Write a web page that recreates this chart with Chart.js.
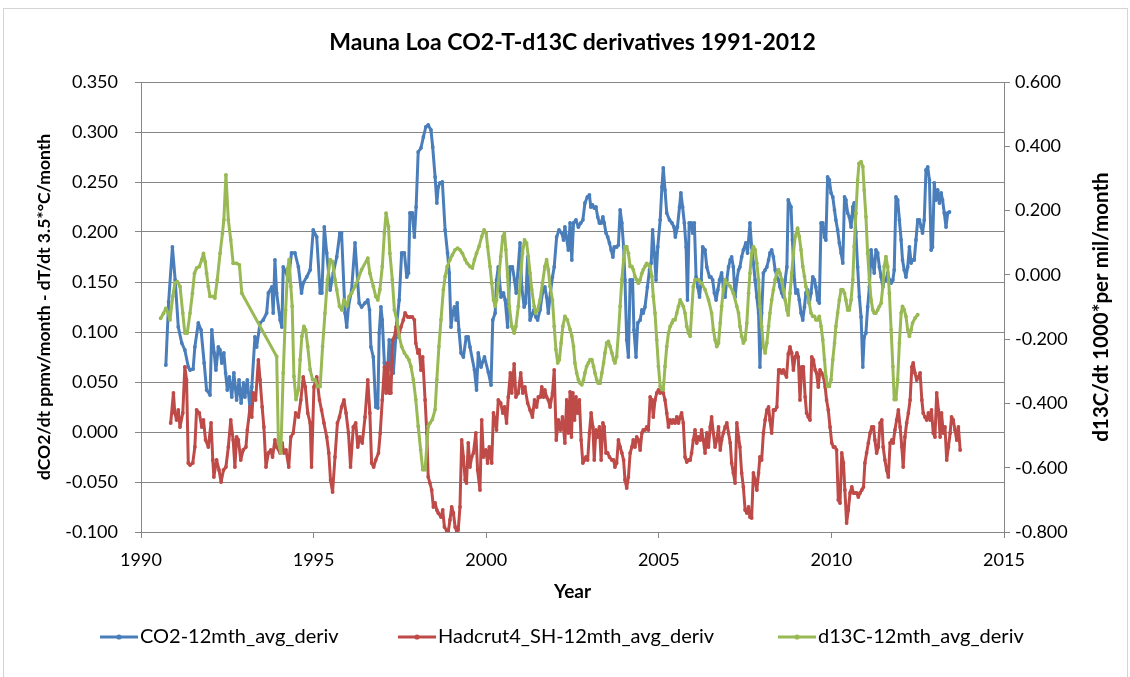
<!DOCTYPE html>
<html>
<head>
<meta charset="utf-8">
<title>Mauna Loa CO2-T-d13C derivatives 1991-2012</title>
<script src="https://cdn.jsdelivr.net/npm/chart.js@4.4.1/dist/chart.umd.min.js"></script>
<style>
  html, body { margin: 0; padding: 0; background: #ffffff; }
  #wrap { width: 1130px; height: 677px; position: relative; }
  canvas { display: block; }
</style>
</head>
<body>
<div id="wrap"><canvas id="chart" width="1130" height="677"></canvas></div>
<script>
// ---- Series data (decimal year, value) ----

// CO2 12-month average derivative (left axis)
const co2Year = [
  1990.72,1990.80,1990.91,1990.99,1991.08,1991.18,1991.27,1991.37,1991.42,1991.51,
  1991.56,1991.66,1991.74,1991.83,1991.90,1992.00,1992.05,1992.12,1992.17,1992.24,
  1992.29,1992.34,1992.40,1992.45,1992.50,1992.56,1992.63,1992.69,1992.77,1992.84,
  1992.90,1992.97,1993.01,1993.08,1993.16,1993.21,1993.30,1993.35,1993.45,1993.54,
  1993.64,1993.69,1993.79,1993.83,1993.88,1993.93,1994.03,1994.08,1994.12,1994.20,
  1994.27,1994.36,1994.46,1994.56,1994.65,1994.70,1994.80,1994.90,1994.99,1995.09,
  1995.19,1995.24,1995.31,1995.38,1995.48,1995.57,1995.67,1995.76,1995.81,1995.91,
  1995.96,1996.01,1996.10,1996.20,1996.32,1996.39,1996.49,1996.57,1996.62,1996.66,
  1996.73,1996.80,1996.86,1996.90,1996.95,1996.99,1997.05,1997.10,1997.15,1997.19,
  1997.24,1997.31,1997.41,1997.48,1997.55,1997.63,1997.70,1997.75,1997.79,1997.86,
  1997.92,1997.97,1998.03,1998.11,1998.18,1998.25,1998.32,1998.40,1998.45,1998.52,
  1998.57,1998.61,1998.66,1998.73,1998.81,1998.88,1998.93,1998.98,1999.03,1999.08,
  1999.13,1999.16,1999.21,1999.27,1999.34,1999.42,1999.48,1999.53,1999.66,1999.72,
  1999.77,1999.85,1999.95,2000.06,2000.14,2000.19,2000.26,2000.30,2000.35,2000.43,
  2000.50,2000.55,2000.62,2000.69,2000.76,2000.82,2000.87,2000.98,2001.03,2001.10,
  2001.14,2001.20,2001.27,2001.38,2001.44,2001.49,2001.56,2001.63,2001.70,2001.75,
  2001.80,2001.86,2001.92,2001.97,2002.04,2002.11,2002.19,2002.24,2002.28,2002.38,
  2002.43,2002.48,2002.53,2002.60,2002.67,2002.74,2002.80,2002.86,2002.93,2002.99,
  2003.03,2003.08,2003.13,2003.18,2003.23,2003.28,2003.33,2003.38,2003.42,2003.47,
  2003.52,2003.57,2003.62,2003.67,2003.71,2003.78,2003.83,2003.88,2003.93,2003.98,
  2004.02,2004.07,2004.12,2004.17,2004.24,2004.28,2004.34,2004.39,2004.46,2004.51,
  2004.55,2004.60,2004.67,2004.73,2004.78,2004.82,2004.87,2004.92,2004.97,2005.04,
  2005.09,2005.13,2005.18,2005.23,2005.31,2005.38,2005.44,2005.48,2005.54,2005.60,
  2005.64,2005.69,2005.74,2005.79,2005.83,2005.88,2005.94,2005.98,2006.03,2006.08,
  2006.13,2006.18,2006.23,2006.27,2006.34,2006.39,2006.47,2006.51,2006.56,2006.61,
  2006.66,2006.71,2006.76,2006.82,2006.87,2006.92,2006.97,2007.02,2007.07,2007.11,
  2007.16,2007.21,2007.26,2007.31,2007.35,2007.40,2007.45,2007.52,2007.57,2007.64,
  2007.69,2007.74,2007.79,2007.84,2007.89,2007.93,2007.98,2008.03,2008.08,2008.13,
  2008.18,2008.22,2008.27,2008.32,2008.37,2008.42,2008.47,2008.51,2008.56,2008.61,
  2008.66,2008.71,2008.75,2008.83,2008.87,2008.93,2008.97,2009.02,2009.07,2009.12,
  2009.17,2009.22,2009.26,2009.31,2009.36,2009.41,2009.46,2009.51,2009.55,2009.60,
  2009.65,2009.70,2009.75,2009.80,2009.84,2009.89,2009.94,2009.99,2010.04,2010.09,
  2010.13,2010.18,2010.23,2010.28,2010.33,2010.38,2010.42,2010.47,2010.52,2010.57,
  2010.62,2010.66,2010.71,2010.76,2010.81,2010.86,2010.91,2010.95,2011.00,2011.05,
  2011.10,2011.15,2011.20,2011.24,2011.29,2011.34,2011.39,2011.44,2011.49,2011.53,
  2011.58,2011.63,2011.68,2011.73,2011.78,2011.82,2011.87,2011.92,2011.97,2012.02,
  2012.06,2012.11,2012.16,2012.21,2012.26,2012.31,2012.35,2012.40,2012.45,2012.50,
  2012.55,2012.60,2012.64,2012.69,2012.74,2012.79,2012.84,2012.89,2012.93,2012.98,
  2013.03,2013.08,2013.13,2013.18,2013.22,2013.27,2013.32,2013.37,2013.42
];
const co2Value = [
  0.067,0.130,0.185,0.152,0.105,0.089,0.082,0.065,0.062,0.063,
  0.085,0.109,0.102,0.069,0.042,0.037,0.102,0.079,0.062,0.085,
  0.082,0.069,0.079,0.059,0.042,0.055,0.035,0.059,0.032,0.052,
  0.029,0.049,0.035,0.052,0.022,0.045,0.095,0.085,0.109,0.112,
  0.119,0.139,0.145,0.119,0.172,0.139,0.112,0.105,0.165,0.160,
  0.152,0.179,0.179,0.165,0.139,0.149,0.155,0.162,0.202,0.195,
  0.139,0.139,0.205,0.179,0.142,0.159,0.175,0.199,0.199,0.119,
  0.105,0.125,0.142,0.189,0.129,0.125,0.129,0.132,0.122,0.085,
  0.075,0.025,0.024,0.099,0.125,0.112,0.069,0.059,0.065,0.092,
  0.062,0.059,0.109,0.132,0.179,0.179,0.155,0.159,0.219,0.219,
  0.195,0.225,0.280,0.284,0.295,0.305,0.307,0.302,0.285,0.255,
  0.229,0.245,0.249,0.250,0.202,0.179,0.159,0.105,0.119,0.125,
  0.112,0.129,0.102,0.079,0.075,0.095,0.095,0.085,0.062,0.042,
  0.079,0.065,0.075,0.060,0.047,0.112,0.119,0.152,0.165,0.135,
  0.139,0.132,0.105,0.165,0.165,0.152,0.139,0.189,0.145,0.125,
  0.129,0.175,0.112,0.122,0.115,0.112,0.122,0.139,0.145,0.135,
  0.119,0.139,0.155,0.165,0.195,0.202,0.199,0.192,0.205,0.182,
  0.209,0.172,0.209,0.212,0.205,0.209,0.212,0.229,0.235,0.237,
  0.225,0.227,0.224,0.225,0.215,0.209,0.209,0.215,0.209,0.199,
  0.195,0.189,0.182,0.175,0.185,0.185,0.187,0.222,0.209,0.185,
  0.152,0.092,0.075,0.152,0.152,0.102,0.075,0.109,0.112,0.122,
  0.119,0.125,0.145,0.162,0.169,0.202,0.179,0.152,0.185,0.212,
  0.245,0.264,0.242,0.219,0.212,0.209,0.205,0.195,0.205,0.225,
  0.239,0.225,0.209,0.185,0.132,0.209,0.209,0.199,0.209,0.155,
  0.145,0.135,0.152,0.185,0.182,0.165,0.155,0.155,0.152,0.139,
  0.132,0.142,0.152,0.159,0.145,0.135,0.152,0.165,0.172,0.175,
  0.165,0.135,0.152,0.162,0.165,0.175,0.182,0.189,0.179,0.209,
  0.185,0.169,0.152,0.135,0.119,0.065,0.119,0.159,0.162,0.165,
  0.172,0.179,0.182,0.175,0.162,0.155,0.152,0.145,0.139,0.135,
  0.152,0.165,0.232,0.225,0.192,0.152,0.139,0.142,0.132,0.119,
  0.112,0.125,0.139,0.142,0.129,0.139,0.155,0.152,0.145,0.132,
  0.129,0.209,0.209,0.195,0.192,0.255,0.252,0.239,0.235,0.222,
  0.212,0.202,0.189,0.179,0.169,0.235,0.232,0.219,0.215,0.205,
  0.225,0.229,0.199,0.165,0.135,0.115,0.065,0.095,0.099,0.125,
  0.145,0.182,0.169,0.159,0.182,0.179,0.165,0.155,0.145,0.152,
  0.152,0.159,0.152,0.149,0.152,0.162,0.235,0.232,0.212,0.192,
  0.172,0.162,0.155,0.165,0.185,0.169,0.172,0.172,0.192,0.212,
  0.212,0.205,0.199,0.212,0.262,0.265,0.252,0.182,0.185,0.249,
  0.232,0.242,0.229,0.239,0.232,0.219,0.205,0.219,0.220
];

// HadCRUT4 southern hemisphere, 12-month average derivative (left axis)
const hadYear = [
  1990.86,1990.94,1990.98,1991.03,1991.08,1991.13,1991.21,1991.27,1991.32,1991.37,
  1991.42,1991.50,1991.56,1991.61,1991.69,1991.76,1991.81,1991.87,1991.95,1992.03,
  1992.08,1992.11,1992.19,1992.26,1992.32,1992.39,1992.46,1992.53,1992.60,1992.67,
  1992.72,1992.77,1992.82,1992.89,1992.96,1993.04,1993.08,1993.16,1993.21,1993.25,
  1993.32,1993.40,1993.45,1993.51,1993.56,1993.62,1993.69,1993.76,1993.81,1993.88,
  1993.93,1994.03,1994.09,1994.14,1994.20,1994.28,1994.34,1994.41,1994.48,1994.56,
  1994.63,1994.70,1994.76,1994.83,1994.90,1994.94,1995.01,1995.09,1995.17,1995.23,
  1995.30,1995.38,1995.44,1995.49,1995.55,1995.62,1995.69,1995.75,1995.81,1995.88,
  1995.94,1996.01,1996.07,1996.15,1996.22,1996.28,1996.34,1996.41,1996.49,1996.57,
  1996.63,1996.68,1996.74,1996.80,1996.88,1996.93,1996.99,1997.05,1997.10,1997.15,
  1997.19,1997.24,1997.29,1997.34,1997.39,1997.46,1997.53,1997.60,1997.65,1997.73,
  1997.79,1997.86,1997.92,1997.96,1998.02,1998.06,1998.11,1998.16,1998.23,1998.28,
  1998.32,1998.37,1998.42,1998.47,1998.52,1998.57,1998.61,1998.69,1998.74,1998.79,
  1998.86,1998.90,1998.95,1999.00,1999.05,1999.10,1999.15,1999.19,1999.24,1999.29,
  1999.34,1999.39,1999.43,1999.48,1999.53,1999.58,1999.63,1999.70,1999.75,1999.82,
  1999.87,1999.92,1999.99,2000.04,2000.09,2000.16,2000.21,2000.26,2000.30,2000.35,
  2000.42,2000.48,2000.53,2000.59,2000.64,2000.70,2000.74,2000.81,2000.86,2000.93,
  2001.00,2001.06,2001.12,2001.20,2001.27,2001.34,2001.40,2001.46,2001.51,2001.57,
  2001.61,2001.66,2001.70,2001.75,2001.80,2001.85,2001.92,2001.97,2002.03,2002.09,
  2002.15,2002.21,2002.28,2002.33,2002.38,2002.43,2002.47,2002.51,2002.56,2002.60,
  2002.65,2002.70,2002.75,2002.80,2002.85,2002.89,2002.94,2002.99,2003.04,2003.09,
  2003.13,2003.18,2003.23,2003.28,2003.33,2003.38,2003.42,2003.47,2003.52,2003.57,
  2003.64,2003.69,2003.73,2003.78,2003.83,2003.88,2003.93,2003.98,2004.02,2004.07,
  2004.12,2004.17,2004.22,2004.26,2004.31,2004.36,2004.41,2004.46,2004.51,2004.55,
  2004.60,2004.65,2004.70,2004.75,2004.80,2004.84,2004.89,2004.94,2004.99,2005.04,
  2005.09,2005.13,2005.18,2005.23,2005.28,2005.33,2005.38,2005.42,2005.47,2005.52,
  2005.57,2005.62,2005.66,2005.71,2005.76,2005.81,2005.86,2005.91,2005.95,2006.00,
  2006.05,2006.10,2006.15,2006.20,2006.24,2006.29,2006.34,2006.39,2006.44,2006.49,
  2006.53,2006.58,2006.63,2006.68,2006.73,2006.78,2006.82,2006.87,2006.92,2006.97,
  2007.02,2007.07,2007.11,2007.16,2007.21,2007.26,2007.31,2007.35,2007.40,2007.45,
  2007.50,2007.55,2007.60,2007.64,2007.69,2007.74,2007.79,2007.84,2007.89,2007.93,
  2007.98,2008.03,2008.08,2008.13,2008.18,2008.22,2008.27,2008.32,2008.37,2008.42,
  2008.47,2008.51,2008.56,2008.61,2008.66,2008.70,2008.75,2008.80,2008.85,2008.90,
  2008.95,2009.00,2009.04,2009.09,2009.14,2009.19,2009.24,2009.28,2009.33,2009.38,
  2009.43,2009.48,2009.53,2009.57,2009.62,2009.67,2009.72,2009.77,2009.82,2009.86,
  2009.91,2009.96,2010.01,2010.06,2010.10,2010.15,2010.20,2010.25,2010.30,2010.35,
  2010.39,2010.44,2010.49,2010.54,2010.59,2010.64,2010.68,2010.73,2010.78,2010.83,
  2010.88,2010.93,2010.97,2011.02,2011.07,2011.12,2011.17,2011.22,2011.26,2011.31,
  2011.36,2011.41,2011.46,2011.50,2011.55,2011.60,2011.65,2011.70,2011.75,2011.79,
  2011.84,2011.89,2011.94,2011.99,2012.04,2012.08,2012.13,2012.18,2012.23,2012.28,
  2012.33,2012.37,2012.42,2012.47,2012.52,2012.57,2012.62,2012.66,2012.71,2012.76,
  2012.81,2012.86,2012.90,2012.95,2013.00,2013.05,2013.10,2013.15,2013.19,2013.24,
  2013.29,2013.34,2013.39,2013.44,2013.48,2013.53,2013.58,2013.63,2013.68,2013.73
];
const hadValue = [
  0.009,0.039,0.019,0.012,0.022,0.005,0.019,0.065,0.052,-0.031,
  -0.033,-0.031,-0.015,0.022,0.019,0.005,0.012,-0.008,-0.015,0.009,
  -0.028,-0.045,-0.028,-0.038,-0.050,-0.038,-0.035,-0.015,0.012,-0.008,
  -0.035,-0.005,-0.008,-0.028,-0.018,-0.015,0.002,0.025,0.015,0.039,
  0.032,0.072,0.052,0.025,0.005,-0.035,-0.021,-0.018,-0.025,-0.008,
  -0.015,-0.021,-0.011,-0.021,-0.018,-0.035,-0.005,-0.001,0.019,0.015,
  0.032,0.055,0.045,0.019,0.009,-0.035,0.045,0.055,0.032,0.022,
  0.009,-0.005,-0.021,-0.048,-0.060,-0.025,0.009,0.015,0.025,0.032,
  0.019,-0.001,-0.035,0.005,0.009,-0.015,-0.005,-0.011,0.015,0.052,
  0.019,-0.031,-0.035,-0.028,-0.021,-0.001,0.032,0.065,0.039,0.069,
  0.039,0.039,0.092,0.095,0.105,0.095,0.105,0.112,0.119,0.115,
  0.115,0.115,0.112,0.089,0.079,0.082,0.062,0.075,0.032,-0.001,
  -0.045,-0.051,-0.058,-0.075,-0.071,-0.078,-0.081,-0.085,-0.078,-0.095,
  -0.099,-0.100,-0.088,-0.075,-0.081,-0.095,-0.100,-0.098,-0.075,-0.008,
  -0.025,-0.048,-0.051,-0.011,-0.035,-0.025,-0.021,-0.001,-0.038,-0.058,
  0.012,-0.025,-0.018,-0.031,-0.015,-0.031,0.019,0.012,0.002,0.032,
  0.029,0.019,0.025,0.009,0.035,0.059,0.039,0.068,0.035,0.039,
  0.059,0.039,0.045,0.029,0.022,0.015,0.032,0.025,0.035,0.035,
  0.045,0.035,0.042,0.035,0.032,0.025,0.039,0.062,-0.008,0.012,
  0.002,0.015,-0.011,0.032,-0.001,0.040,-0.005,0.039,0.012,0.035,
  0.019,0.032,-0.008,-0.031,-0.028,-0.025,-0.028,-0.001,0.019,0.005,
  -0.028,0.002,-0.005,0.005,-0.028,0.009,0.005,-0.021,-0.021,-0.025,
  -0.028,-0.028,-0.035,-0.031,-0.008,-0.015,-0.021,-0.028,-0.048,-0.056,
  -0.045,-0.021,-0.015,-0.008,-0.015,-0.005,-0.008,-0.018,-0.001,0.002,
  0.002,0.005,0.002,0.035,0.032,0.015,0.032,0.039,0.042,0.039,
  0.042,0.039,0.032,0.019,0.005,0.012,0.009,0.012,0.009,0.015,
  0.009,0.015,0.019,0.009,-0.025,-0.030,-0.028,-0.028,-0.021,-0.008,
  0.002,-0.011,-0.005,-0.008,0.002,-0.008,-0.021,-0.001,-0.015,0.005,
  0.015,-0.001,-0.015,-0.008,0.005,-0.018,-0.008,-0.001,0.005,0.009,
  -0.001,-0.011,-0.031,-0.041,-0.051,0.009,-0.005,-0.015,-0.041,-0.055,
  -0.078,-0.081,-0.075,-0.085,-0.086,-0.041,-0.048,-0.058,-0.041,-0.025,
  -0.028,-0.001,0.012,0.022,0.025,0.012,-0.001,0.022,0.022,0.025,
  0.062,0.062,0.059,0.062,0.058,0.055,0.078,0.085,0.079,0.062,
  0.075,0.079,0.075,0.032,0.065,0.065,0.035,0.019,0.015,0.012,
  0.075,0.072,0.062,0.059,0.045,0.062,0.059,0.055,0.045,0.032,
  0.022,0.005,-0.011,-0.015,-0.015,-0.018,-0.068,-0.071,-0.021,-0.031,
  -0.058,-0.091,-0.078,-0.061,-0.055,-0.061,-0.061,-0.061,-0.065,-0.061,
  -0.058,-0.055,-0.031,-0.021,-0.011,-0.001,0.005,0.005,-0.008,-0.021,
  -0.015,0.009,0.012,-0.015,-0.028,-0.038,-0.045,-0.011,-0.008,-0.011,
  0.002,0.012,0.022,0.005,-0.015,-0.035,-0.005,0.009,0.019,0.032,
  0.065,0.069,0.059,0.052,0.055,0.059,0.032,0.019,0.015,0.012,
  0.019,0.012,0.022,-0.001,-0.005,0.039,0.022,-0.005,0.019,-0.001,
  0.005,-0.028,-0.015,-0.001,0.015,0.012,0.002,-0.008,0.005,-0.018
];

// d13C 12-month average derivative (right axis)
const d13cYear = [
  1990.57,1990.65,1990.72,1990.79,1990.84,1990.92,1990.98,1991.05,1991.13,1991.21,
  1991.27,1991.34,1991.42,1991.49,1991.55,1991.61,1991.69,1991.76,1991.81,1991.86,
  1991.90,1991.95,1992.00,1992.08,1992.14,1992.21,1992.29,1992.36,1992.40,1992.46,
  1992.53,1992.60,1992.67,1992.77,1992.85,1992.92,1993.93,1993.98,1994.05,1994.12,
  1994.19,1994.25,1994.29,1994.34,1994.38,1994.43,1994.49,1994.56,1994.61,1994.66,
  1994.72,1994.77,1994.83,1994.90,1994.97,1995.04,1995.12,1995.19,1995.26,1995.33,
  1995.40,1995.48,1995.55,1995.62,1995.67,1995.75,1995.82,1995.88,1995.96,1996.03,
  1996.10,1996.20,1996.30,1996.39,1996.57,1996.63,1996.73,1996.80,1996.86,1996.92,
  1996.99,1997.05,1997.10,1997.17,1997.21,1997.28,1997.34,1997.41,1997.48,1997.55,
  1997.63,1997.70,1997.76,1997.82,1997.89,1997.96,1998.03,1998.10,1998.16,1998.23,
  1998.32,1998.37,1998.44,1998.52,1998.57,1998.63,1998.69,1998.76,1998.81,1998.87,
  1998.95,1999.02,1999.10,1999.17,1999.24,1999.31,1999.39,1999.45,1999.53,1999.60,
  1999.66,1999.72,1999.79,1999.87,1999.94,2000.00,2000.04,2000.11,2000.16,2000.21,
  2000.26,2000.30,2000.35,2000.42,2000.48,2000.53,2000.57,2000.62,2000.67,2000.74,
  2000.81,2000.86,2000.93,2000.99,2001.05,2001.11,2001.17,2001.22,2001.27,2001.32,
  2001.39,2001.43,2001.49,2001.56,2001.63,2001.70,2001.75,2001.80,2001.85,2001.92,
  2001.97,2002.02,2002.07,2002.12,2002.17,2002.22,2002.28,2002.35,2002.43,2002.48,
  2002.53,2002.57,2002.62,2002.67,2002.72,2002.77,2002.82,2002.86,2002.91,2002.96,
  2003.01,2003.06,2003.11,2003.15,2003.20,2003.25,2003.30,2003.35,2003.40,2003.44,
  2003.49,2003.54,2003.59,2003.64,2003.69,2003.73,2003.78,2003.83,2003.88,2003.93,
  2003.98,2004.02,2004.07,2004.12,2004.17,2004.22,2004.26,2004.31,2004.36,2004.41,
  2004.46,2004.51,2004.55,2004.60,2004.65,2004.70,2004.75,2004.80,2004.84,2004.89,
  2004.94,2004.99,2005.04,2005.09,2005.13,2005.18,2005.23,2005.28,2005.33,2005.38,
  2005.42,2005.47,2005.52,2005.57,2005.62,2005.66,2005.71,2005.76,2005.81,2005.86,
  2005.91,2005.95,2006.00,2006.05,2006.15,2006.24,2006.34,2006.44,2006.53,2006.58,
  2006.63,2006.68,2006.73,2006.78,2006.82,2006.87,2006.92,2006.97,2007.07,2007.16,
  2007.26,2007.31,2007.35,2007.40,2007.45,2007.50,2007.55,2007.60,2007.64,2007.69,
  2007.74,2007.79,2007.84,2007.89,2007.93,2007.98,2008.03,2008.08,2008.13,2008.18,
  2008.22,2008.27,2008.32,2008.37,2008.42,2008.47,2008.51,2008.56,2008.61,2008.66,
  2008.71,2008.75,2008.80,2008.85,2008.90,2008.95,2009.02,2009.07,2009.12,2009.17,
  2009.22,2009.26,2009.31,2009.36,2009.41,2009.46,2009.51,2009.55,2009.60,2009.65,
  2009.70,2009.75,2009.80,2009.84,2009.89,2009.94,2009.99,2010.04,2010.09,2010.13,
  2010.18,2010.23,2010.28,2010.33,2010.38,2010.42,2010.47,2010.52,2010.57,2010.62,
  2010.66,2010.71,2010.76,2010.80,2010.86,2010.91,2010.95,2011.00,2011.05,2011.10,
  2011.15,2011.20,2011.24,2011.29,2011.34,2011.39,2011.44,2011.49,2011.53,2011.58,
  2011.63,2011.68,2011.73,2011.78,2011.82,2011.87,2011.92,2011.97,2012.02,2012.06,
  2012.11,2012.16,2012.21,2012.26,2012.31,2012.35,2012.42,2012.50
];
const d13cValue = [
  -0.135,-0.120,-0.104,-0.120,-0.140,-0.067,-0.026,-0.021,-0.036,-0.119,
  -0.181,-0.181,-0.119,-0.057,0.005,0.021,0.026,0.047,0.067,0.041,
  0.005,-0.036,-0.067,-0.067,-0.072,-0.015,0.067,0.129,0.171,0.311,
  0.171,0.109,0.036,0.036,0.031,-0.057,-0.254,-0.520,-0.554,-0.305,
  -0.109,0.020,0.047,-0.036,-0.098,-0.316,-0.388,-0.357,-0.264,-0.191,
  -0.160,-0.171,-0.223,-0.295,-0.326,-0.326,-0.347,-0.347,-0.223,-0.119,
  -0.015,0.047,0.041,-0.015,-0.046,-0.098,-0.109,-0.078,-0.098,-0.067,
  -0.057,-0.036,-0.010,0.016,0.052,0.005,-0.036,-0.067,-0.078,-0.046,
  0.026,0.130,0.192,0.150,0.067,-0.015,-0.109,-0.140,-0.191,-0.223,
  -0.243,-0.254,-0.264,-0.285,-0.326,-0.388,-0.471,-0.544,-0.606,-0.606,
  -0.471,-0.461,-0.450,-0.419,-0.326,-0.223,-0.140,-0.046,-0.005,0.026,
  0.047,0.062,0.078,0.083,0.078,0.067,0.047,0.036,0.026,0.021,
  0.047,0.067,0.088,0.119,0.140,0.130,0.088,0.026,-0.026,-0.078,
  -0.098,-0.078,-0.026,0.057,0.119,0.130,0.078,-0.005,-0.098,-0.160,
  -0.181,-0.160,-0.098,-0.015,0.067,0.109,0.099,0.057,0.005,-0.046,
  -0.098,-0.119,-0.109,-0.078,-0.026,0.026,0.047,0.016,-0.036,-0.078,
  -0.160,-0.233,-0.274,-0.264,-0.212,-0.160,-0.129,-0.140,-0.170,-0.190,
  -0.223,-0.274,-0.305,-0.326,-0.337,-0.342,-0.326,-0.305,-0.285,-0.274,
  -0.264,-0.264,-0.285,-0.305,-0.326,-0.337,-0.337,-0.305,-0.274,-0.243,
  -0.212,-0.207,-0.223,-0.243,-0.264,-0.274,-0.254,-0.181,-0.098,-0.015,
  0.047,0.088,0.088,0.067,0.026,0.026,0.016,-0.005,-0.015,-0.026,
  -0.015,0.005,0.016,0.026,0.036,0.031,0.026,-0.005,-0.067,-0.119,
  -0.202,-0.285,-0.347,-0.357,-0.357,-0.285,-0.223,-0.181,-0.160,-0.150,
  -0.140,-0.140,-0.119,-0.098,-0.078,-0.088,-0.098,-0.119,-0.160,-0.181,
  -0.191,-0.119,-0.036,-0.015,-0.015,-0.026,-0.046,-0.078,-0.119,-0.171,
  -0.202,-0.223,-0.212,-0.150,-0.098,-0.046,-0.015,-0.026,-0.036,-0.057,
  -0.098,-0.119,-0.160,-0.191,-0.212,-0.202,-0.150,-0.057,0.005,0.067,
  0.088,0.078,0.036,-0.015,-0.098,-0.160,-0.223,-0.243,-0.212,-0.160,
  -0.119,-0.078,-0.046,-0.015,0.005,0.016,0.005,-0.015,-0.046,-0.078,
  -0.109,-0.125,-0.057,0.005,0.067,0.119,0.145,0.119,0.078,0.026,
  -0.005,-0.036,-0.057,-0.088,-0.119,-0.129,-0.129,-0.140,-0.140,-0.129,
  -0.160,-0.202,-0.264,-0.316,-0.347,-0.347,-0.326,-0.264,-0.212,-0.160,
  -0.119,-0.078,-0.046,-0.046,-0.057,-0.078,-0.109,-0.109,-0.078,-0.015,
  0.088,0.192,0.295,0.347,0.352,0.337,0.264,0.181,0.067,-0.015,
  -0.078,-0.109,-0.119,-0.119,-0.109,-0.098,-0.088,-0.036,0.026,0.057,
  0.026,-0.057,-0.171,-0.285,-0.388,-0.388,-0.326,-0.212,-0.119,-0.098,
  -0.109,-0.129,-0.171,-0.191,-0.171,-0.150,-0.135,-0.124
];

// ---- Labels ----
const chartTitle = 'Mauna Loa CO2-T-d13C derivatives 1991-2012';
const xAxisTitle = 'Year';
const leftAxisTitle = 'dCO2/dt ppmv/month - dT/dt 3.5*\u00B0C/month';
const rightAxisTitle = 'd13C/dt 1000*per mil/month';
const seriesNames = ['CO2-12mth_avg_deriv', 'Hadcrut4_SH-12mth_avg_deriv', 'd13C-12mth_avg_deriv'];

// ---- Style ----
const FONT = 'Lato, "Open Sans", "DejaVu Sans", sans-serif';
const BLUE = '#4A7EBB';
const RED = '#BE4B48';
const GREEN = '#98B954';
const GRID = '#868686';

function toPoints(xs, ys) {
  return xs.map((x, i) => ({ x: x, y: ys[i] }));
}

function seriesStyle(color) {
  return {
    borderColor: color,
    backgroundColor: color,
    borderWidth: 3,
    pointRadius: 1.9,
    pointBorderWidth: 0,
    pointHoverRadius: 0,
    pointBackgroundColor: color,
    tension: 0,
    fill: false,
    borderJoinStyle: 'round',
    borderCapStyle: 'round'
  };
}

// Title, axis titles, legend and outer frame drawn on the canvas
const chartDecor = {
  id: 'chartDecor',
  beforeDraw(chart) {
    const ctx = chart.ctx;
    ctx.save();
    ctx.fillStyle = '#ffffff';
    ctx.fillRect(0, 0, chart.width, chart.height);
    ctx.strokeStyle = '#d4d4d4';
    ctx.lineWidth = 1;
    ctx.strokeRect(3.5, 8.5, chart.width - 6, chart.height + 20);
    ctx.restore();
  },
  afterDraw(chart) {
    const ctx = chart.ctx;
    const area = chart.chartArea;
    const cx = (area.left + area.right) / 2;
    const cy = (area.top + area.bottom) / 2;
    ctx.save();
    ctx.fillStyle = '#000000';
    ctx.textAlign = 'center';
    ctx.textBaseline = 'middle';

    ctx.font = 'bold 23px ' + FONT;
    ctx.fillText(chartTitle, cx, 43);

    ctx.font = 'bold 19px ' + FONT;
    ctx.fillText(xAxisTitle, cx, 592);

    ctx.font = 'bold 17.5px ' + FONT;
    ctx.save();
    ctx.translate(44, cy);
    ctx.rotate(-Math.PI / 2);
    ctx.fillText(leftAxisTitle, 0, 0);
    ctx.restore();

    ctx.font = 'bold 20.5px ' + FONT;
    ctx.save();
    ctx.translate(1101, cy);
    ctx.rotate(-Math.PI / 2);
    ctx.fillText(rightAxisTitle, 0, 0);
    ctx.restore();

    // legend: line sample with a marker, then the series name
    const legendStart = [100, 398, 778];
    const legendY = 637;
    ctx.font = '20px ' + FONT;
    ctx.textAlign = 'left';
    chart.data.datasets.forEach((ds, i) => {
      const x0 = legendStart[i];
      ctx.strokeStyle = ds.borderColor;
      ctx.lineWidth = 3;
      ctx.beginPath();
      ctx.moveTo(x0, legendY);
      ctx.lineTo(x0 + 38, legendY);
      ctx.stroke();
      ctx.fillStyle = ds.borderColor;
      ctx.beginPath();
      ctx.arc(x0 + 19, legendY, 2.6, 0, Math.PI * 2);
      ctx.fill();
      ctx.fillStyle = '#000000';
      ctx.fillText(ds.label, x0 + 40, legendY);
    });
    ctx.restore();
  }
};

const ctx = document.getElementById('chart').getContext('2d');
new Chart(ctx, {
  type: 'line',
  data: {
    datasets: [
      Object.assign({ label: seriesNames[0], data: toPoints(co2Year, co2Value), yAxisID: 'y', order: 3 }, seriesStyle(BLUE)),
      Object.assign({ label: seriesNames[1], data: toPoints(hadYear, hadValue), yAxisID: 'y', order: 2 }, seriesStyle(RED)),
      Object.assign({ label: seriesNames[2], data: toPoints(d13cYear, d13cValue), yAxisID: 'y2', order: 1 }, seriesStyle(GREEN))
    ]
  },
  options: {
    responsive: false,
    animation: false,
    devicePixelRatio: 1,
    events: [],
    layout: { padding: { top: 82, left: 0, right: 0, bottom: 0 } },
    plugins: {
      legend: { display: false },
      title: { display: false },
      tooltip: { enabled: false }
    },
    scales: {
      x: {
        type: 'linear',
        min: 1990,
        max: 2015,
        afterFit: (s) => { s.height = 145; },
        ticks: {
          stepSize: 5,
          padding: 11,
          color: '#000000',
          font: { family: FONT, size: 18 },
          callback: (v) => String(v)
        },
        grid: { drawOnChartArea: false, drawTicks: true, tickLength: 6, color: GRID, lineWidth: 1 },
        border: { display: true, color: GRID, width: 1 }
      },
      y: {
        type: 'linear',
        position: 'left',
        min: -0.1,
        max: 0.35,
        afterFit: (s) => { s.width = 141; },
        ticks: {
          stepSize: 0.05,
          padding: 17,
          color: '#000000',
          font: { family: FONT, size: 18 },
          callback: (v) => (Math.abs(v) < 1e-9 ? 0 : v).toFixed(3)
        },
        grid: { drawOnChartArea: true, drawTicks: true, tickLength: 6, color: GRID, lineWidth: 1 },
        border: { display: true, color: GRID, width: 1 }
      },
      y2: {
        type: 'linear',
        position: 'right',
        min: -0.8,
        max: 0.6,
        afterFit: (s) => { s.width = 126; },
        ticks: {
          stepSize: 0.2,
          padding: 5,
          color: '#000000',
          font: { family: FONT, size: 18 },
          callback: (v) => (Math.abs(v) < 1e-9 ? 0 : v).toFixed(3)
        },
        grid: { drawOnChartArea: false, drawTicks: true, tickLength: 6, color: GRID, lineWidth: 1 },
        border: { display: true, color: GRID, width: 1 }
      }
    }
  },
  plugins: [chartDecor]
});
</script>
</body>
</html>
